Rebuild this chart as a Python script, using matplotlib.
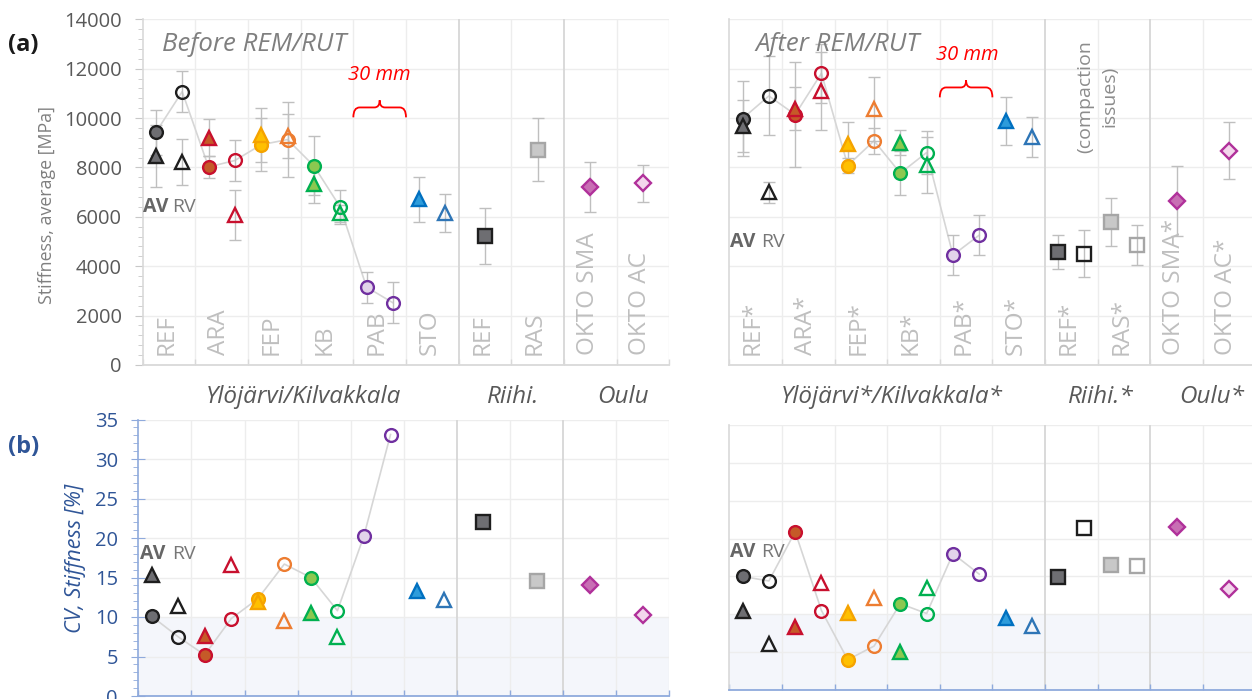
import numpy as np
import matplotlib
matplotlib.use("Agg")
import matplotlib.pyplot as plt
from matplotlib.path import Path
from matplotlib.patches import PathPatch
from matplotlib.ticker import MultipleLocator
from matplotlib.transforms import blended_transform_factory

plt.rcParams["font.family"] = ["Open Sans", "DejaVu Sans"]

nan = np.nan

# ---------------------------------------------------------------- labels
sites_before = ["REF", "ARA", "FEP", "KB", "PAB", "STO", "REF", "RAS", "OKTO SMA", "OKTO AC"]
sites_after = ["REF*", "ARA*", "FEP*", "KB*", "PAB*", "STO*", "REF*", "RAS*", "OKTO SMA*", "OKTO AC*"]
regions_before = ["Ylöjärvi/Kilvakkala", "Riihi.", "Oulu"]
regions_after = ["Ylöjärvi*/Kilvakkala*", "Riihi.*", "Oulu*"]

# ------------------------------------------- stiffness, average [MPa]
# Ylöjärvi/Kilvakkala sections: REF, ARA, FEP, KB, PAB, STO
circ_av_before = [9420, 8020, 8920, 8065, 3156, nan]
circ_av_before_sd = [920, 450, 1080, 1190, 630, nan]
circ_rv_before = [11070, 8282, 9130, 6400, 2522, nan]
circ_rv_before_sd = [830, 820, 1525, 690, 830, nan]
tri_av_before = [8460, 9212, 9320, 7310, nan, 6704]
tri_av_before_sd = [1270, 740, 1080, 730, nan, 900]
tri_rv_before = [8220, 6069, 9265, 6136, nan, 6163]
tri_rv_before_sd = [950, 1025, 900, 350, nan, 760]
# Riihimäki (REF, RAS) and Oulu (OKTO SMA, OKTO AC)
sq_av_before = [5220, 8726]
sq_av_before_sd = [1145, 1275]
dia_before = [7215, 7364]
dia_before_sd = [1010, 750]

circ_av_after = [9980, 10142, 8078, 7768, 4450, nan]
circ_av_after_sd = [1510, 2125, 320, 880, 800, nan]
circ_rv_after = [10896, 11814, 9080, 8605, 5260, nan]
circ_rv_after_sd = [1600, 1200, 530, 860, 810, nan]
tri_av_after = [9670, 10385, 8930, 9010, nan, 9885]
tri_av_after_sd = [1046, 876, 915, 500, nan, 960]
tri_rv_after = [6988, 11114, 10357, 8100, nan, 9237]
tri_rv_after_sd = [420, 1580, 1300, 1130, nan, 800]
sq_av_after = [4572, 5798]
sq_av_after_sd = [690, 970]
sq_rv_after = [4504, 4855]
sq_rv_after_sd = [960, 800]
dia_after = [6635, 8685]
dia_after_sd = [1430, 1150]

# ------------------------------------------------ CV of stiffness [%]
cv_circ_av_before = [10.1, 5.2, 12.3, 15.0, 20.3, nan]
cv_circ_rv_before = [7.5, 9.8, 16.7, 10.8, 33.1, nan]
cv_tri_av_before = [15.3, 7.6, 11.9, 10.5, nan, 13.3]
cv_tri_rv_before = [11.4, 16.6, 9.5, 7.5, nan, 12.1]
cv_sq_av_before = [22.0, 14.6]
cv_dia_before = [14.1, 10.2]

cv_circ_av_after = [15.0, 20.9, 4.0, 11.4, 18.0, nan]
cv_circ_rv_after = [14.4, 10.5, 5.8, 10.1, 15.3, nan]
cv_tri_av_after = [10.5, 8.3, 10.2, 5.0, nan, 9.5]
cv_tri_rv_after = [6.1, 14.1, 12.2, 13.5, nan, 8.5]
cv_sq_av_after = [14.9, 16.5]
cv_sq_rv_after = [21.4, 16.4]
cv_dia_after = [21.5, 13.3]

# ---------------------------------------------------------------- styles
AV_FACE = ["#6E6E72", "#C55A28", "#FFC000", "#8CC850", "#E2D4EA", "#2D9CDB"]
AV_EDGE = ["#1E1E1E", "#C8102E", "#F5A300", "#00B050", "#7030A0", "#0070C0"]
RV_EDGE = ["#1E1E1E", "#C8102E", "#ED7D31", "#00B050", "#7030A0", "#2E75B6"]
SQ_FACE = ["#6E6E72", "#C8C8C8"]
SQ_EDGE = ["#1E1E1E", "#A6A6A6"]
DIA_FACE = ["#C86EB4", "#F3D6EC"]
DIA_EDGE = ["#B0309A", "#B0309A"]
ERR_C = "#BFBFBF"
LINK_C = "#D6D6D6"
GRID_C = "#EDEDED"
SEP_C = "#D9D9D9"
BLUE = "#2F5597"
SPINE_BLUE = "#8FAADC"

MS_CIRC, MS_TRI, MS_SQ, MS_DIA = 9.2, 9.8, 9.8, 8.0

W, H = 1252, 699
fig = plt.figure(figsize=(W / 100, H / 100), dpi=100)


def rect(x0, y0, x1, y1):
    return [x0 / W, 1 - y1 / H, (x1 - x0) / W, (y1 - y0) / H]


ax_tl = fig.add_axes(rect(142.7, 19.3, 669.3, 365))
ax_tr = fig.add_axes(rect(729.4, 19.3, 1255.4, 365))
ax_bl = fig.add_axes(rect(138.3, 419.5, 669.3, 696))
ax_br = fig.add_axes(rect(729.4, 425, 1255.4, 690))


def frame(ax, ymax, ystep, spine_c, show_y, yminor):
    ax.set_xlim(0, 10)
    ax.set_ylim(0, ymax)
    for v in np.arange(ystep, ymax + 1, ystep):
        ax.axhline(v, color=GRID_C, lw=1, zorder=0.5)
    for k in range(1, 11):
        sep = k in (6, 8)
        ax.axvline(k, color=SEP_C if sep else GRID_C, lw=1.4 if sep else 1, zorder=0.6)
    ax.set_xticks(range(0, 11))
    ax.set_xticklabels([])
    ax.tick_params(axis="x", direction="in", length=4, color=spine_c, width=1)
    for s in ("top", "right"):
        ax.spines[s].set_visible(False)
    ax.spines["bottom"].set_color(spine_c)
    ax.spines["bottom"].set_linewidth(1.3)
    ax.spines["left"].set_color(spine_c if show_y else SEP_C)
    ax.spines["left"].set_linewidth(1.2)
    ax.set_yticks(np.arange(0, ymax + 1, ystep))
    if show_y:
        ax.yaxis.set_minor_locator(MultipleLocator(yminor))
    else:
        ax.tick_params(axis="y", which="both", left=False, labelleft=False)
    ax.set_facecolor("none")


def point(ax, x, y, sd, marker, ms, face, edge, z=4):
    if np.isnan(y):
        return
    if sd is not None and not np.isnan(sd):
        ax.errorbar(x, y, yerr=sd, fmt="none", ecolor=ERR_C, elinewidth=1.0,
                    capsize=4.5, capthick=1.0, zorder=2)
    ax.plot(x, y, marker=marker, ms=ms, mfc=face, mec=edge, mew=1.7,
            ls="none", zorder=z)


def sections(ax, c_av, c_rv, t_av, t_rv, c_av_sd=None, c_rv_sd=None,
             t_av_sd=None, t_rv_sd=None):
    nsec = len(c_av)
    pick = lambda a, i: None if a is None else a[i]
    # grey line linking the circle series
    lx, ly = [], []
    for i in range(nsec):
        for off, vals in ((0.25, c_av), (0.75, c_rv)):
            if not np.isnan(vals[i]):
                lx.append(i + off)
                ly.append(vals[i])
    ax.plot(lx, ly, color=LINK_C, lw=1.2, zorder=1)
    for i in range(nsec):
        point(ax, i + 0.25, c_av[i], pick(c_av_sd, i), "o", MS_CIRC, AV_FACE[i], AV_EDGE[i])
        point(ax, i + 0.75, c_rv[i], pick(c_rv_sd, i), "o", MS_CIRC, "none", RV_EDGE[i])
        point(ax, i + 0.25, t_av[i], pick(t_av_sd, i), "^", MS_TRI, AV_FACE[i], AV_EDGE[i], z=5)
        point(ax, i + 0.75, t_rv[i], pick(t_rv_sd, i), "^", MS_TRI, "none", RV_EDGE[i], z=5)


def brace(ax, x0, x1, yb, yt):
    ym = yb + 0.58 * (yt - yb)
    w = x1 - x0
    xc = 0.5 * (x0 + x1)
    verts = [(x0, yb), (x0, ym), (x0 + 0.12 * w, ym),
             (xc - 0.1 * w, ym),
             (xc, ym), (xc, yt),
             (xc, ym), (xc + 0.1 * w, ym),
             (x1 - 0.12 * w, ym),
             (x1, ym), (x1, yb)]
    codes = [Path.MOVETO, Path.CURVE3, Path.CURVE3, Path.LINETO,
             Path.CURVE3, Path.CURVE3, Path.CURVE3, Path.CURVE3,
             Path.LINETO, Path.CURVE3, Path.CURVE3]
    ax.add_patch(PathPatch(Path(verts, codes), fill=False, ec="#FF0000", lw=1.3,
                           zorder=3, clip_on=False))


def av_rv(ax, x_av, x_rv, y):
    ax.text(x_av, y, "AV", fontsize=14, fontweight="bold", color="#666666",
            ha="left", va="baseline", zorder=6)
    ax.text(x_rv, y, "RV", fontsize=14, color="#777777", ha="left",
            va="baseline", zorder=6)


def site_labels(ax, labels):
    for k, lab in enumerate(labels):
        ax.text(k + 0.45, 400, lab, rotation=90, ha="center", va="bottom",
                fontsize=17.5, color="#BFBFBF", zorder=1)


def region_labels(ax, labels, xs):
    tr = blended_transform_factory(ax.transData, ax.transAxes)
    for lab, x in zip(labels, xs):
        ax.text(x, -0.11, lab, transform=tr, ha="center", va="baseline",
                fontsize=17.5, style="italic", color="#595959", clip_on=False)


# ---------------------------------------------------- (a) stiffness
for ax, show in ((ax_tl, True), (ax_tr, False)):
    frame(ax, 14000, 2000, "#D9D9D9", show, 400)
ax_tl.tick_params(axis="y", which="major", direction="out", length=5.5,
                  color="#C8C8C8", labelsize=14.5, labelcolor="#595959", pad=9.5)
ax_tl.tick_params(axis="y", which="minor", direction="out", length=3.6,
                  color="#C8C8C8")

sections(ax_tl, circ_av_before, circ_rv_before, tri_av_before, tri_rv_before,
         circ_av_before_sd, circ_rv_before_sd, tri_av_before_sd, tri_rv_before_sd)
for j in range(2):
    point(ax_tl, 6.5 + j, sq_av_before[j], sq_av_before_sd[j], "s", MS_SQ, SQ_FACE[j], SQ_EDGE[j])
    point(ax_tl, 8.5 + j, dia_before[j], dia_before_sd[j], "D", MS_DIA, DIA_FACE[j], DIA_EDGE[j])

sections(ax_tr, circ_av_after, circ_rv_after, tri_av_after, tri_rv_after,
         circ_av_after_sd, circ_rv_after_sd, tri_av_after_sd, tri_rv_after_sd)
for j in range(2):
    point(ax_tr, 6.25 + j, sq_av_after[j], sq_av_after_sd[j], "s", MS_SQ, SQ_FACE[j], SQ_EDGE[j])
    point(ax_tr, 6.75 + j, sq_rv_after[j], sq_rv_after_sd[j], "s", MS_SQ, "none", SQ_EDGE[j])
    point(ax_tr, 8.5 + j, dia_after[j], dia_after_sd[j], "D", MS_DIA, DIA_FACE[j], DIA_EDGE[j])

site_labels(ax_tl, sites_before)
site_labels(ax_tr, sites_after)
region_labels(ax_tl, regions_before, [3.05, 7.03, 9.12])
region_labels(ax_tr, regions_after, [3.09, 7.06, 9.17])

ax_tl.text(0.37, 12700, "Before REM/RUT", fontsize=18.5, style="italic",
           color="#7F7F7F", ha="left", va="baseline")
ax_tr.text(0.49, 12700, "After REM/RUT", fontsize=18.5, style="italic",
           color="#7F7F7F", ha="left", va="baseline", zorder=6)
ax_tl.text(4.49, 11530, "30 mm", fontsize=14.5, style="italic", color="#FF0000",
           ha="center", va="baseline")
ax_tr.text(4.52, 12340, "30 mm", fontsize=14.5, style="italic", color="#FF0000",
           ha="center", va="baseline")
brace(ax_tl, 4.0, 5.0, 10030, 10720)
brace(ax_tr, 4.0, 5.0, 10840, 11530)
ax_tr.text(7.0, 10880, "(compaction\nissues)", rotation=90, ha="center",
           va="center", multialignment="center", fontsize=14, color="#8C8C8C",
           linespacing=1.45)
av_rv(ax_tl, 0.01, 0.55, 6190)
av_rv(ax_tr, 0.01, 0.60, 4770)

# ---------------------------------------------------- (b) CV
for ax, show in ((ax_bl, True), (ax_br, False)):
    ax.axhspan(0, 10, color="#F4F6FB", zorder=0.2, lw=0)
    frame(ax, 35, 5, SPINE_BLUE, show, 1)
ax_br.spines["left"].set_color(SEP_C)
ax_bl.tick_params(axis="y", which="major", direction="inout", length=9.5,
                  color=SPINE_BLUE, labelsize=14.5, labelcolor=BLUE, pad=10)
ax_bl.tick_params(axis="y", which="minor", direction="out", length=3.6,
                  color=SPINE_BLUE)

sections(ax_bl, cv_circ_av_before, cv_circ_rv_before, cv_tri_av_before, cv_tri_rv_before)
for j in range(2):
    point(ax_bl, 6.5 + j, cv_sq_av_before[j], None, "s", MS_SQ, SQ_FACE[j], SQ_EDGE[j])
    point(ax_bl, 8.5 + j, cv_dia_before[j], None, "D", MS_DIA, DIA_FACE[j], DIA_EDGE[j])

sections(ax_br, cv_circ_av_after, cv_circ_rv_after, cv_tri_av_after, cv_tri_rv_after)
for j in range(2):
    point(ax_br, 6.25 + j, cv_sq_av_after[j], None, "s", MS_SQ, SQ_FACE[j], SQ_EDGE[j])
    point(ax_br, 6.75 + j, cv_sq_rv_after[j], None, "s", MS_SQ, "none", SQ_EDGE[j])
    point(ax_br, 8.5 + j, cv_dia_after[j], None, "D", MS_DIA, DIA_FACE[j], DIA_EDGE[j])

av_rv(ax_bl, 0.03, 0.63, 17.3)
av_rv(ax_br, 0.01, 0.60, 17.6)

# ---------------------------------------------------- figure labels
fig.text(8 / W, 1 - 45 / H, "(a)", fontsize=17, fontweight="bold",
         color="#1A1A1A", ha="left", va="center")
fig.text(8 / W, 1 - 447 / H, "(b)", fontsize=17, fontweight="bold",
         color=BLUE, ha="left", va="center")
fig.text(46.7 / W, 1 - 205 / H, "Stiffness, average [MPa]", rotation=90,
         fontsize=12.8, color="#7F7F7F", ha="center", va="center")
fig.text(76 / W, 1 - 558 / H, "CV, Stiffness [%]", rotation=90, fontsize=15.5,
         style="italic", color=BLUE, ha="center", va="center")

fig.savefig("out.png", dpi=100)
